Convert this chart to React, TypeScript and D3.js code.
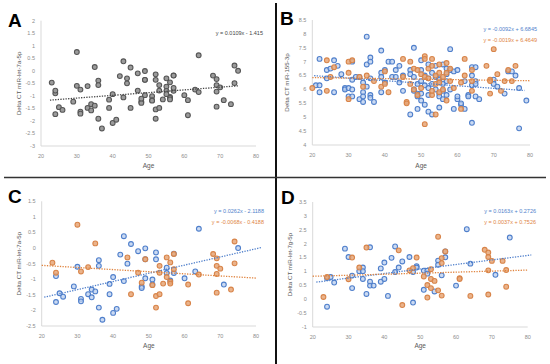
import React from "react";
import * as d3 from "d3";

// ages on x axis for every panel
const ageTicks = [20, 30, 40, 50, 60, 70, 80];

// miR-let-7a-5p (panel C by group, panel A = both together)
const let7aBlue: [number, number][] = [
  [24, -1.73], [24, -0.9], [25, -1.45], [26, -1.56], [29, -1.23], [30, -0.6], [31, -1.63], [31, -1.71],
  [33, -1.48], [34, -1.33], [34, -1.58], [35, -1.39], [36, -0.39], [36, -0.57], [36, -1.91], [37, -2.3],
  [39, -1.48], [39, -1.15], [40, -0.93], [40, -2.08], [41, -1.95], [42, -0.21], [43, 0.38], [43, -1.06],
  [44, -0.5], [45, 0.13], [47, -0.1], [48, -1.23], [48, -1.28], [49, -0.01], [49, -0.36], [49, -0.97],
  [51, -1.01], [51, -1.17], [52, -0.14], [52, -0.36], [55, -0.63], [55, -0.8], [56, -1.04], [57, -0.18],
  [57, -0.8], [60, -0.97], [63, -0.75], [64, 0.62], [71, -1.17], [75, 0.0],
];
const let7aOrange: [number, number][] = [
  [23, -0.47], [24, -0.79], [30, 0.75], [31, -0.75], [33, -0.61], [35, 0.15], [44, -0.3], [45, -1.48],
  [47, -0.79], [48, -1.11], [49, -0.36], [51, -1.19], [52, -1.54], [52, -1.91], [53, -0.57], [53, -0.79],
  [53, -1.48], [54, -1.14], [55, -0.3], [55, -0.93], [56, -0.46], [56, -1.08], [56, -1.14], [57, -0.19],
  [57, -0.68], [61, -1.77], [61, -1.17], [64, -0.85], [68, -0.19], [69, -0.33], [69, -0.57], [69, -0.83],
  [69, -1.43], [70, -0.66], [73, -1.33], [74, 0.21], [74, -0.49],
];

// miR-155-3p (panel B)
const mir155Blue: [number, number][] = [
  [21, 6.15], [22, 6.15], [22, 7.1], [22, 5.9], [24, 6.7], [24, 6.4], [25, 6.75], [26, 7.05], [26, 5.9],
  [27, 6.85], [28, 6.55], [29, 6.05], [29, 6.0], [30, 6.05], [30, 5.75], [31, 7.0], [31, 6.35], [31, 6.0],
  [31, 5.75], [32, 6.45], [33, 5.65], [33, 6.45], [34, 5.9], [34, 5.75], [34, 5.55], [34, 6.25], [35, 6.9],
  [35, 7.9], [35, 6.1], [36, 7.15], [36, 7.0], [36, 6.4], [36, 5.8], [36, 5.7], [37, 5.55], [39, 7.4],
  [39, 6.6], [39, 6.45], [39, 5.9], [40, 6.7], [40, 6.25], [41, 7.0], [42, 7.0], [42, 6.45], [43, 6.7],
  [43, 6.45], [44, 6.85], [44, 6.25], [45, 5.95], [45, 6.5], [47, 5.1], [47, 6.7], [47, 6.55], [48, 7.5],
  [48, 6.45], [48, 6.0], [48, 5.95], [49, 5.3], [49, 6.2], [49, 5.85], [49, 5.75], [50, 6.7], [50, 7.05],
  [50, 6.3], [50, 5.85], [50, 5.6], [51, 5.45], [51, 6.15], [51, 6.5], [52, 5.2], [52, 6.9], [52, 6.4],
  [52, 6.05], [52, 5.8], [53, 5.1], [53, 6.2], [53, 6.6], [54, 6.45], [54, 6.85], [54, 6.0], [55, 5.35],
  [55, 6.4], [55, 6.35], [55, 5.85], [55, 5.75], [56, 6.9], [56, 6.2], [56, 5.95], [56, 5.65], [57, 6.55],
  [57, 6.75], [57, 6.3], [57, 5.8], [58, 7.45], [58, 6.7], [58, 6.0], [59, 5.3], [59, 6.65], [60, 6.7],
  [60, 5.65], [60, 5.75], [61, 5.45], [61, 5.5], [62, 5.3], [62, 6.3], [63, 5.8], [63, 5.75], [64, 4.8],
  [64, 6.8], [64, 6.15], [64, 6.5], [65, 6.8], [65, 6.3], [65, 5.75], [65, 6.2], [66, 5.65], [70, 6.35],
  [70, 6.2], [71, 6.1], [73, 5.85], [74, 6.65], [75, 6.65], [76, 6.5], [77, 6.05], [77, 4.6], [79, 5.6],
];
const mir155Orange: [number, number][] = [
  [20, 6.05], [24, 7.05], [24, 5.95], [25, 6.45], [26, 6.8], [30, 7.0], [30, 5.65], [30, 6.6], [31, 7.05],
  [33, 6.45], [34, 6.1], [35, 6.5], [37, 6.3], [39, 6.1], [40, 6.65], [40, 6.2], [41, 5.9], [45, 7.1],
  [45, 6.45], [46, 5.55], [46, 5.5], [47, 7.0], [47, 6.2], [48, 6.0], [48, 6.75], [49, 6.7], [49, 5.8],
  [50, 6.05], [50, 6.55], [51, 4.75], [51, 7.2], [51, 7.1], [51, 6.45], [52, 6.75], [52, 6.4], [53, 7.1],
  [53, 6.85], [53, 5.8], [53, 5.95], [54, 6.5], [54, 6.2], [54, 5.1], [55, 6.9], [55, 6.6], [55, 5.9],
  [55, 6.25], [56, 6.45], [56, 6.0], [57, 6.95], [57, 5.6], [57, 6.6], [58, 6.75], [58, 6.3], [59, 6.05],
  [61, 6.25], [61, 5.3], [62, 6.5], [62, 7.1], [64, 6.7], [64, 6.3], [64, 5.95], [68, 6.85], [69, 6.35],
  [69, 6.3], [69, 5.85], [70, 7.45], [71, 6.55], [72, 5.95], [73, 6.3], [74, 6.7], [75, 6.3], [76, 6.85],
];

// miR-let-7g-5p (panel D)
const let7gBlue: [number, number][] = [
  [24, -0.27], [24, 0.76], [25, 0.8], [26, 0.6], [29, 1.82], [30, 1.52], [31, 0.85], [31, 0.4], [33, 1.01],
  [34, 1.14], [34, 1.01], [34, 0.73], [35, 0.19], [36, 1.87], [36, 0.63], [36, 0.49], [37, 0.49], [39, 1.11],
  [39, 0.63], [40, 1.32], [40, 0.73], [41, 0.12], [42, 1.49], [43, 1.9], [43, 0.98], [44, 1.14], [45, 1.36],
  [47, 1.52], [48, 0.98], [48, -0.12], [49, 1.19], [49, 1.14], [51, 0.34], [51, 1.03], [52, 1.03], [52, 0.92],
  [54, 0.28], [55, 1.39], [55, 1.24], [56, 0.86], [57, 1.51], [57, 1.72], [60, 0.49], [63, 2.52], [64, 1.28],
  [71, 0.88], [75, 2.22],
];
const let7gOrange: [number, number][] = [
  [23, 0.08], [24, 0.8], [30, 0.72], [31, 1.5], [33, 1.14], [35, 1.86], [44, 1.76], [45, -0.21], [47, 1.04],
  [48, 1.12], [49, 1.5], [51, 0.82], [52, 0.51], [52, 0.06], [53, 1.08], [53, 0.73], [53, 0.4], [54, 0.66],
  [55, 2.25], [55, 0.32], [56, 1.48], [56, 1.3], [56, 0.13], [57, 1.72], [61, 0.76], [61, 0.73], [64, 0.12],
  [68, 1.78], [69, 1.68], [69, 1.52], [69, 1.04], [69, 0.17], [70, 1.38], [73, 1.38], [74, 1.05], [74, 0.45],
];

const BLUE = { stroke: "#4f7fcb", fill: "#b9cdee", op: 0.75 };
const ORANGE = { stroke: "#d88449", fill: "#e6a677", op: 0.85 };
const GREY = { stroke: "#555555", fill: "#9b9b9b", op: 1 };
const font = "Liberation Sans, Arial, sans-serif";

type Trend = { slope: number; icpt: number; from: number; to: number; color: string; label: string; ly: number };
type Series = { data: [number, number][]; style: { stroke: string; fill: string; op: number } };

function Panel(p: {
  letter: string; lx: number; ly: number;
  xr: [number, number]; yr: [number, number]; yDomain: [number, number];
  yTitle: string; yTitleX: number; xTitleY: number;
  series: Series[]; trends: Trend[]; labelX: number;
}) {
  const x = d3.scaleLinear().domain([20, 80]).range(p.xr);
  const y = d3.scaleLinear().domain(p.yDomain).range([p.yr[1], p.yr[0]]);
  const yTicks = d3.range(p.yDomain[0], p.yDomain[1] + 0.001, 0.5);
  const midY = (p.yr[0] + p.yr[1]) / 2;
  return (
    <g>
      <text x={p.lx} y={p.ly} fontFamily={font} fontWeight="bold" fontSize={19} fill="#000">{p.letter}</text>
      <line x1={p.xr[0]} x2={p.xr[0]} y1={p.yr[0]} y2={p.yr[1]} stroke="#d9d9d9" />
      <line x1={p.xr[0]} x2={p.xr[1]} y1={p.yr[1]} y2={p.yr[1]} stroke="#d9d9d9" />
      {yTicks.map((t) => (
        <text key={t} x={p.xr[0] - 6} y={y(t)} dy="0.35em" textAnchor="end" fontFamily={font} fontSize={5.5} fill="#8c8c8c">
          {String(Math.round(t * 10) / 10)}
        </text>
      ))}
      {ageTicks.map((t) => (
        <text key={t} x={x(t)} y={p.yr[1] + 10} dy="0.35em" textAnchor="middle" fontFamily={font} fontSize={5.5} fill="#8c8c8c">
          {t}
        </text>
      ))}
      <text transform={`translate(${p.yTitleX},${midY}) rotate(-90)`} textAnchor="middle" fontFamily={font} fontSize={6.2} fill="#595959">
        {p.yTitle}
      </text>
      <text x={(p.xr[0] + p.xr[1]) / 2} y={p.xTitleY} textAnchor="middle" fontFamily={font} fontSize={6.5} fill="#595959">Age</text>
      {p.series.map((s, i) => (
        <g key={i}>
          {s.data.map((d, j) => (
            <circle key={j} cx={x(d[0])} cy={y(d[1])} r={2.4} fill={s.style.fill} fillOpacity={s.style.op}
              stroke={s.style.stroke} strokeWidth={1.1} />
          ))}
        </g>
      ))}
      {p.trends.map((t, i) => (
        <g key={i}>
          <line x1={x(t.from)} y1={y(t.slope * t.from + t.icpt)} x2={x(t.to)} y2={y(t.slope * t.to + t.icpt)}
            stroke={t.color} strokeWidth={1.3} strokeDasharray="1.3,1.3" />
          <text x={p.labelX} y={t.ly} textAnchor="end" fontFamily={font} fontSize={5.5} fill={t.color}>{t.label}</text>
        </g>
      ))}
    </g>
  );
}

export default function App() {
  return (
    <svg width={550} height={364} style={{ position: "absolute", left: 0, top: 0, background: "#fff" }}>
      <rect width={550} height={364} fill="#fff" />
      <Panel letter="A" lx={8} ly={27} xr={[41, 256]} yr={[20.7, 146]} yDomain={[-3, 2]}
        yTitle="Delta CT miR-let-7a-5p" yTitleX={21} xTitleY={168}
        series={[{ data: [...let7aBlue, ...let7aOrange], style: GREY }]}
        trends={[{ slope: 0.0109, icpt: -1.415, from: 22.5, to: 75, color: "#444", label: "y = 0.0109x - 1.415", ly: 35 }]}
        labelX={263} />
      <Panel letter="B" lx={280} ly={25} xr={[312.3, 530]} yr={[20, 145]} yDomain={[4, 8.5]}
        yTitle="Delta CT miR-155-3p" yTitleX={289} xTitleY={168}
        series={[{ data: mir155Blue, style: BLUE }, { data: mir155Orange, style: ORANGE }]}
        trends={[
          { slope: -0.0092, icpt: 6.6845, from: 20.5, to: 78.5, color: "#4f7fcb", label: "y = -0.0092x + 6.6845", ly: 31 },
          { slope: -0.0019, icpt: 6.4649, from: 20, to: 80, color: "#e0843f", label: "y = -0.0019x + 6.4649", ly: 42 },
        ]}
        labelX={537} />
      <Panel letter="C" lx={8} ly={203} xr={[41.7, 256]} yr={[201.3, 326]} yDomain={[-2.5, 1.5]}
        yTitle="Delta CT miR-let-7a-5p" yTitleX={21} xTitleY={348}
        series={[{ data: let7aBlue, style: BLUE }, { data: let7aOrange, style: ORANGE }]}
        trends={[
          { slope: 0.0262, icpt: -2.1188, from: 20.7, to: 81.4, color: "#4f7fcb", label: "y = 0.0262x - 2.1188", ly: 213 },
          { slope: -0.0068, icpt: -0.4188, from: 20, to: 80, color: "#e0843f", label: "y = -0.0068x - 0.4188", ly: 224 },
        ]}
        labelX={264} />
      <Panel letter="D" lx={281} ly={204} xr={[312.7, 527.7]} yr={[202, 327]} yDomain={[-1, 3.5]}
        yTitle="Delta CT miR-let-7g-5p" yTitleX={292} xTitleY={348}
        series={[{ data: let7gBlue, style: BLUE }, { data: let7gOrange, style: ORANGE }]}
        trends={[
          { slope: 0.0163, icpt: 0.2726, from: 21, to: 81, color: "#4f7fcb", label: "y = 0.0163x + 0.2726", ly: 213 },
          { slope: 0.0037, icpt: 0.7526, from: 20, to: 80, color: "#e0843f", label: "y = 0.0037x + 0.7526", ly: 224 },
        ]}
        labelX={536} />
      <line x1={276} x2={276} y1={3} y2={364} stroke="#111" strokeWidth={2} />
      <line x1={4} x2={546} y1={177.5} y2={177.5} stroke="#333" strokeWidth={1.6} />
    </svg>
  );
}
